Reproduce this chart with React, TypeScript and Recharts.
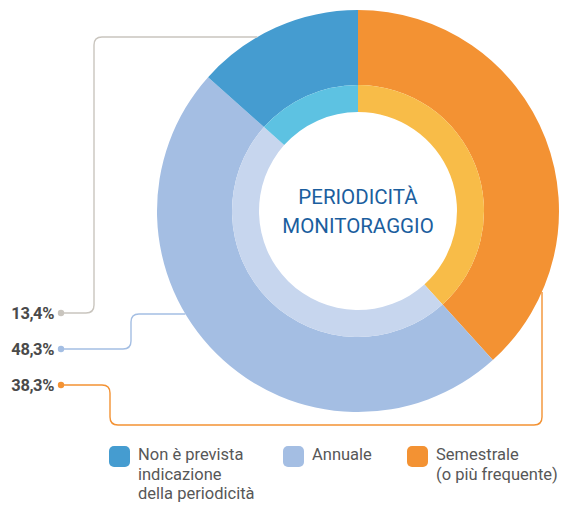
import React from "react";
import { Cell, Label, Legend, Pie, PieChart } from "recharts";

// values, in drawing order (clockwise from 12 o'clock)
const categories = ["Semestrale\n(o più frequente)", "Annuale", "Non è prevista\nindicazione\ndella periodicità"];
const shares = [38.3, 48.3, 13.4];
const centerTitle = ["PERIODICITÀ", "MONITORAGGIO"];

const outerColors = ["#F39233", "#A4BEE3", "#459CD0"];
const innerColors = ["#F8BC48", "#C7D6EE", "#5DC2E2"];
const dotColors = ["#F39233", "#A4BEE3", "#C9C5BE"];

// legend is listed in reverse order
const legendOrder = [2, 1, 0];
const legendX = [109, 283, 407];

const CX = 358;
const CY = 211;
const OUTER_R = 201;
const MID_R = 126;
const INNER_R = 99;

const data = categories.map((name, i) => ({ name, value: shares[i] }));

const fmt = (v: number) => v.toFixed(1).replace(".", ",") + "%";

// path through points with rounded corners
function roundedPath(pts: number[][], r: number) {
  let d = `M${pts[0][0]},${pts[0][1]}`;
  for (let i = 1; i < pts.length - 1; i++) {
    const [px, py] = pts[i - 1];
    const [x, y] = pts[i];
    const [nx, ny] = pts[i + 1];
    const l1 = Math.hypot(x - px, y - py);
    const l2 = Math.hypot(nx - x, ny - y);
    const a = [x - ((x - px) / l1) * r, y - ((y - py) / l1) * r];
    const b = [x + ((nx - x) / l2) * r, y + ((ny - y) / l2) * r];
    d += ` L${a[0]},${a[1]} Q${x},${y} ${b[0]},${b[1]}`;
  }
  const last = pts[pts.length - 1];
  return d + ` L${last[0]},${last[1]}`;
}

function renderConnector(props: any) {
  const { cx, cy, outerRadius, index, value } = props;
  const R = outerRadius;
  let pts: number[][] = [];
  let dotY = 0;
  if (index === 2) {
    dotY = 313;
    const y = 37;
    pts = [[61, dotY], [94, dotY], [94, y], [cx - Math.sqrt(R * R - (cy - y) ** 2), y]];
  } else if (index === 1) {
    dotY = 349;
    const y = 314;
    pts = [[61, dotY], [131, dotY], [131, y], [cx - Math.sqrt(R * R - (y - cy) ** 2), y]];
  } else {
    dotY = 385;
    const x = 542;
    pts = [[61, dotY], [110, dotY], [110, 425], [x, 425], [x, cy + Math.sqrt(R * R - (x - cx) ** 2)]];
  }
  return (
    <g key={`conn-${index}`}>
      <path d={roundedPath(pts, 8)} fill="none" stroke={dotColors[index]} strokeWidth={1.4} />
      <circle cx={61} cy={dotY} r={3.2} fill={dotColors[index]} />
      <text
        x={54}
        y={dotY + 6}
        textAnchor="end"
        fontFamily="Roboto, sans-serif"
        fontWeight={700}
        fontSize={16.5}
        letterSpacing={-0.4}
        fill="#4A4A4A"
      >
        {fmt(value)}
      </text>
    </g>
  );
}

function renderCenter() {
  return (
    <g>
      {centerTitle.map((t, i) => (
        <text
          key={t}
          x={CX}
          y={CY - 7 + i * 29}
          textAnchor="middle"
          fontFamily="Roboto, sans-serif"
          fontSize={20.5}
          fill="#1B5E9E"
        >
          {t}
        </text>
      ))}
    </g>
  );
}

function renderLegend() {
  return (
    <div style={{ position: "relative", width: 561, height: 70, fontFamily: "Roboto, sans-serif" }}>
      {legendOrder.map((idx, k) => (
        <div key={idx} style={{ position: "absolute", left: legendX[k], top: 0, display: "flex" }}>
          <div
            style={{
              width: 21,
              height: 21,
              borderRadius: 5,
              background: outerColors[idx],
              marginTop: 1,
            }}
          />
          <div
            style={{
              marginLeft: 8,
              fontSize: 16.5,
              lineHeight: "19.5px",
              color: "#575757",
              whiteSpace: "pre",
            }}
          >
            {categories[idx]}
          </div>
        </div>
      ))}
    </div>
  );
}

export default function App() {
  return (
    <div style={{ position: "absolute", left: 0, top: 0, width: 561, height: 506, background: "#fff", overflow: "hidden" }}>
      <PieChart width={561} height={506} margin={{ top: 0, right: 0, bottom: 0, left: 0 }}>
        <Pie
          data={data}
          dataKey="value"
          cx={CX}
          cy={CY}
          innerRadius={MID_R}
          outerRadius={OUTER_R}
          startAngle={90}
          endAngle={-270}
          stroke="none"
          label={renderConnector}
          labelLine={false}
          isAnimationActive={false}
        >
          {data.map((d, i) => (
            <Cell key={d.name} fill={outerColors[i]} />
          ))}
        </Pie>
        <Pie
          data={data}
          dataKey="value"
          cx={CX}
          cy={CY}
          innerRadius={INNER_R}
          outerRadius={MID_R}
          startAngle={90}
          endAngle={-270}
          stroke="none"
          isAnimationActive={false}
        >
          {data.map((d, i) => (
            <Cell key={d.name} fill={innerColors[i]} />
          ))}
          <Label position="center" content={renderCenter} />
        </Pie>
        <Legend
          content={renderLegend}
          wrapperStyle={{ position: "absolute", left: 0, top: 445, width: 561 }}
        />
      </PieChart>
    </div>
  );
}
